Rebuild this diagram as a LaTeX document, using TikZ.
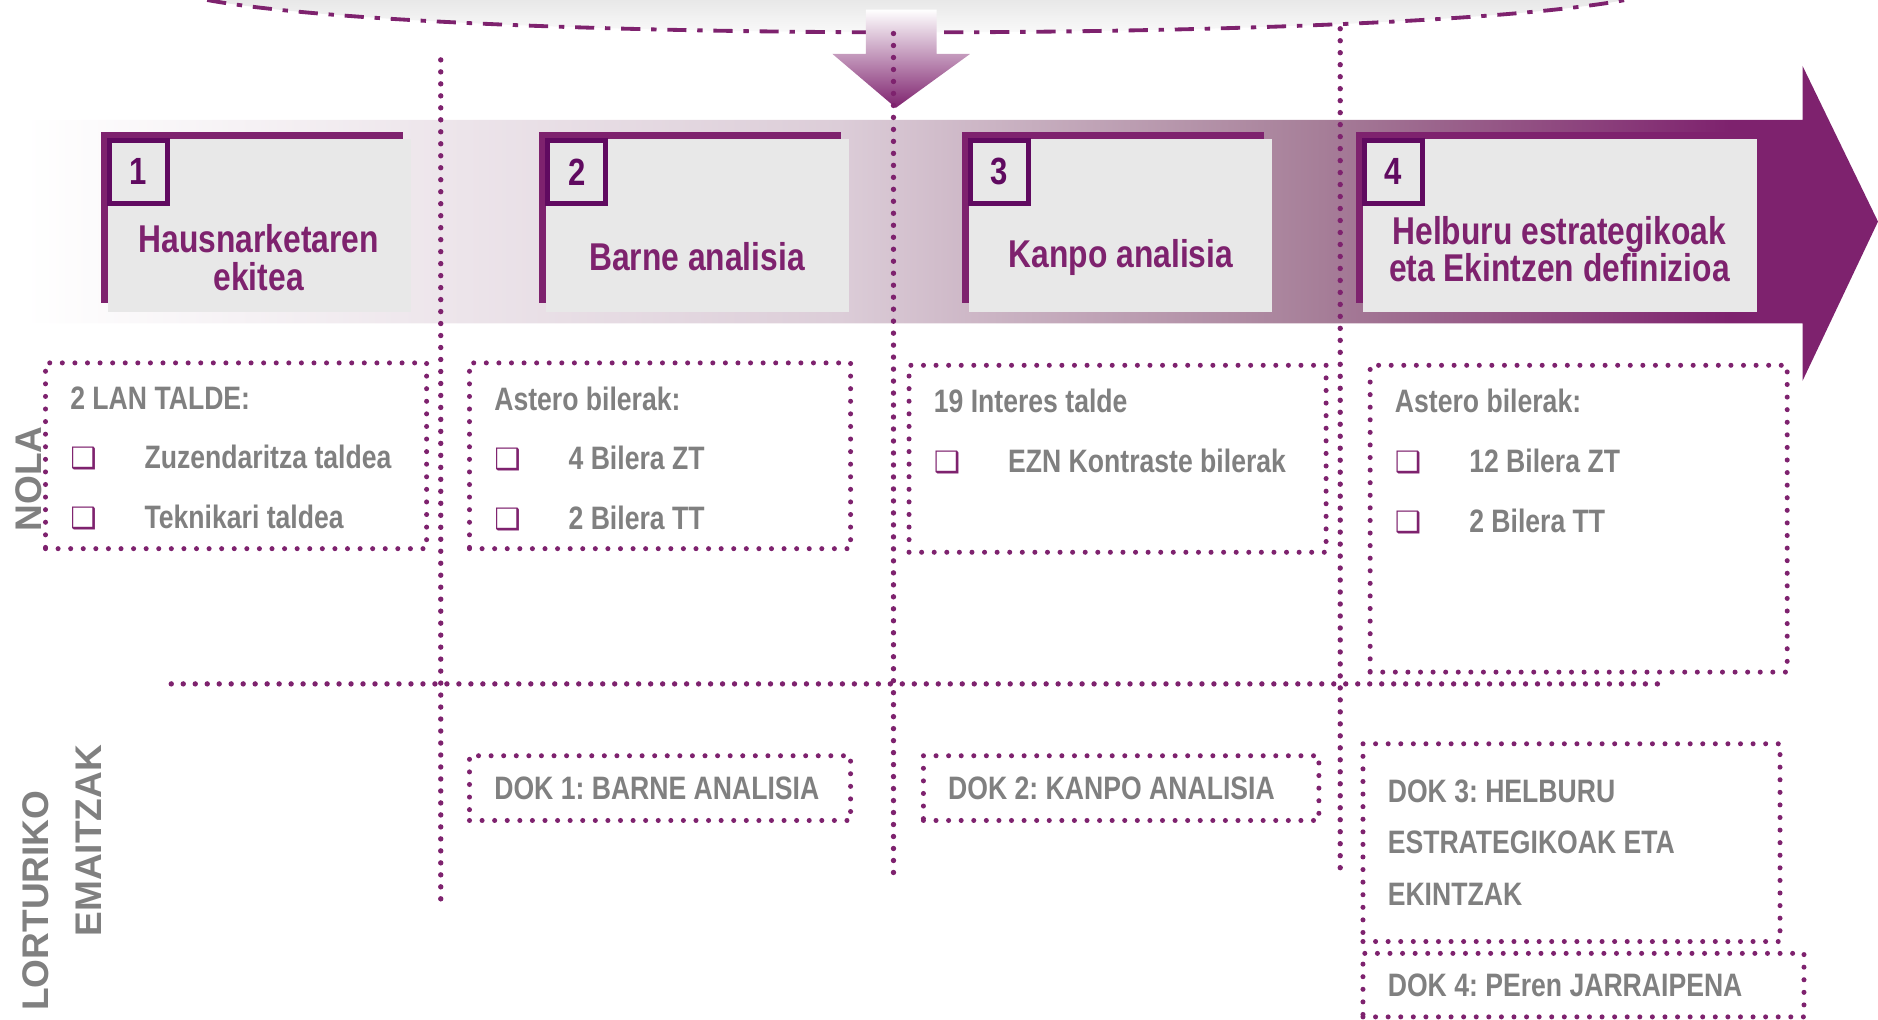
\documentclass[tikz,border=0pt]{standalone}
\usepackage{fontspec}
\setmainfont{Liberation Sans}
\newfontfamily\narrowfont{Liberation Sans}[FakeStretch=0.82]
\newfontfamily\dingfont{DejaVu Sans}
\usepackage{xcolor}
\usepackage{tikz}
\usetikzlibrary{positioning}
\frenchspacing

\definecolor{plumline}{RGB}{126,34,110}
\definecolor{plumdark}{RGB}{96,10,96}
\definecolor{plumlight}{RGB}{220,205,216}
\definecolor{plummid}{RGB}{166,126,152}
\definecolor{cardgrey}{RGB}{232,232,232}
\definecolor{textgrey}{RGB}{128,128,128}

\newcommand\bul{\makebox[0.62cm][l]{{\dingfont\fontsize{7}{7}\selectfont\color{plumline}❑}}}

\pgfdeclarehorizontalshading{bandfade}{100bp}{color(0bp)=(white); color(25bp)=(white); color(47bp)=(plumlight); color(60bp)=(plummid); color(71bp)=(plumline); color(100bp)=(plumline)}

\begin{document}
\begin{tikzpicture}[x=0.01cm, y=-0.01cm]
                \tikzstyle{dotline} = [plumline, line width=0.045cm, line cap=round, dash pattern=on 0pt off 0.1cm]
                \tikzstyle{dotbox} = [draw=plumline, line width=0.042cm, line cap=round, dash pattern=on 0pt off 0.105cm, rectangle, inner sep=0pt, outer sep=0pt, anchor=north west]
                \tikzstyle{stepback} = [fill=plumline, rectangle, inner sep=0pt, outer sep=0pt, anchor=north west, minimum width=2.52cm, minimum height=1.43cm]
                \tikzstyle{stepcard} = [fill=cardgrey, rectangle, inner sep=0pt, outer sep=0pt, anchor=north west, minimum width=2.53cm, minimum height=1.44cm]
                \tikzstyle{stepnum} = [draw=plumdark, line width=0.045cm, fill=cardgrey, inner sep=0pt, minimum width=0.485cm, minimum height=0.525cm, anchor=north west, text=plumdark, font=\narrowfont\bfseries\fontsize{9}{9}\selectfont]
                \tikzstyle{steptitle} = [text=plumline, align=center, font=\narrowfont\bfseries\fontsize{9.2}{9}\selectfont]
                \tikzstyle{listtext} = [text=textgrey, align=left, inner sep=0pt, font=\narrowfont\bfseries\fontsize{7.7}{14.2}\selectfont]
                \tikzstyle{sidelabel} = [text=textgrey, rotate=90, font=\bfseries\fontsize{8.8}{10}\selectfont]

                \useasboundingbox (0,0) rectangle (1568,851);

                % haze and curve on top
                \shade[top color=black!9, bottom color=white] (173,0) .. controls (370,36) and (1160,36) .. (1357,0) -- cycle;
                \draw[plumline, line width=0.032cm, dash pattern=on 0.16cm off 0.09cm on 0.045cm off 0.09cm] (173,0) .. controls (370,36) and (1160,36) .. (1357,0);

                % process arrow
                \shade[shading=bandfade] (20,100) -- (1505,100) -- (1505,55) -- (1568,185) -- (1505,318) -- (1505,270) -- (20,270) -- cycle;
                \shade[top color=white, bottom color=plumline] (723,8) -- (782,8) -- (782,45) -- (810,45) -- (748,90) -- (695,45) -- (723,45) -- cycle;

                % steps
                \node [stepback] (back1) at (84,110) {};
                \node [stepcard] (card1) at (90,116) {};
                \node [stepnum] (num1) at ([shift={(-1,-1)}]card1.north west) {1};
                \node [steptitle] (title1) at (216,215) {Hausnarketaren\\ekitea};

                \node [stepback] (back2) at (450,110) {};
                \node [stepcard] (card2) at (456,116) {};
                \node [stepnum] (num2) at ([shift={(-1,-1)}]card2.north west) {2};
                \node [steptitle] (title2) at (582,214) {Barne analisia};

                \node [stepback] (back3) at (803,110) {};
                \node [stepcard] (card3) at (809,116) {};
                \node [stepnum] (num3) at ([shift={(-1,-1)}]card3.north west) {3};
                \node [steptitle] (title3) at (936,215) {Kanpo analisia};

                \node [stepback, minimum width=3.28cm] (back4) at (1132,110) {};
                \node [stepcard, minimum width=3.29cm] (card4) at (1138,116) {};
                \node [stepnum] (num4) at ([shift={(-1,-1)}]card4.north west) {4};
                \node [steptitle] (title4) at (1302,208) {Helburu estrategikoak\\eta Ekintzen definizioa};

                % separators
                \coordinate (cut1 top) at (368,50);
                \coordinate (cut1 bot) at (368,757);
                \coordinate (cut2 top) at (746,28);
                \coordinate (cut2 bot) at (746,732);
                \coordinate (cut3 top) at (1119,24);
                \coordinate (cut3 bot) at (1119,732);
                \coordinate (row left) at (143,571);
                \coordinate (row right) at (1390,571);
                \draw [dotline] (cut1 top) -- (cut1 bot);
                \draw [dotline] (cut2 top) -- (cut2 bot);
                \draw [dotline] (cut3 top) -- (cut3 bot);
                \draw [dotline] (row left) -- (row right);

                % how
                \node [dotbox, minimum width=3.18cm, minimum height=1.55cm] (nola1) at (38,303) {};
                \node [dotbox, minimum width=3.18cm, minimum height=1.55cm] (nola2) at (392,303) {};
                \node [dotbox, minimum width=3.48cm, minimum height=1.56cm] (nola3) at (759,305) {};
                \node [dotbox, minimum width=3.48cm, minimum height=2.56cm] (nola4) at (1144,305) {};
                \node [listtext, below right=0.19cm and 0.2cm of nola1.north west] (nola1txt) {2 LAN TALDE:\\\bul Zuzendaritza taldea\\\bul Teknikari taldea};
                \node [listtext, below right=0.19cm and 0.2cm of nola2.north west] (nola2txt) {Astero bilerak:\\\bul 4 Bilera ZT\\\bul 2 Bilera TT};
                \node [listtext, below right=0.19cm and 0.2cm of nola3.north west] (nola3txt) {19 Interes talde\\\bul EZN Kontraste bilerak};
                \node [listtext, below right=0.19cm and 0.2cm of nola4.north west] (nola4txt) {Astero bilerak:\\\bul 12 Bilera ZT\\\bul 2 Bilera TT};

                % results
                \node [dotbox, minimum width=3.18cm, minimum height=0.54cm] (dok1) at (392,631) {};
                \node [dotbox, minimum width=3.30cm, minimum height=0.54cm] (dok2) at (771,631) {};
                \node [dotbox, minimum width=3.48cm, minimum height=1.65cm] (dok3) at (1138,621) {};
                \node [dotbox, minimum width=3.68cm, minimum height=0.53cm] (dok4) at (1138,796) {};
                \node [listtext, right=0.2cm of dok1.west] (dok1txt) {DOK 1: BARNE ANALISIA};
                \node [listtext, right=0.2cm of dok2.west] (dok2txt) {DOK 2: KANPO ANALISIA};
                \node [listtext, right=0.2cm of dok3.west, font=\narrowfont\bfseries\fontsize{7.7}{12.2}\selectfont] (dok3txt) {DOK 3: HELBURU\\ESTRATEGIKOAK ETA\\EKINTZAK};
                \node [listtext, right=0.2cm of dok4.west] (dok4txt) {DOK 4: PEren JARRAIPENA};

                % row labels
                \node [sidelabel] (nola) at (24,400) {NOLA};
                \node [sidelabel] (lortu) at (30,752) {LORTURIKO};
                \node [sidelabel] (emaitz) at (74,702) {EMAITZAK};
\end{tikzpicture}
\end{document}
